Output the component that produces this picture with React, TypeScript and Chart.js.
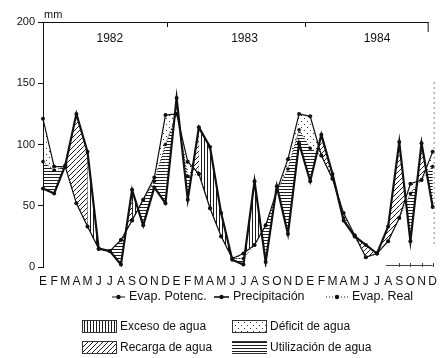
import React, { useEffect, useRef } from 'react';
import { Chart, registerables } from 'chart.js';

Chart.register(...registerables);

const categories = [
  'E', 'F', 'M', 'A', 'M', 'J', 'J', 'A', 'S', 'O', 'N', 'D',
  'E', 'F', 'M', 'A', 'M', 'J', 'J', 'A', 'S', 'O', 'N', 'D',
  'E', 'F', 'M', 'A', 'M', 'J', 'J', 'A', 'S', 'O', 'N', 'D',
];
const years = ['1982', '1983', '1984'];
const yTicks = [0, 50, 100, 150, 200];

const evapPotenc = [121, 82, 82, 52, 33, 15, 13, 22, 38, 55, 73, 124, 125, 86, 76, 48, 25, 7, 11, 18, 34, 62, 88, 125, 123, 91, 72, 44, 26, 8, 11, 21, 40, 68, 71, 94];
const precipitacion = [64, 60, 83, 125, 94, 15, 13, 2, 63, 34, 65, 52, 138, 55, 114, 98, 44, 6, 2, 70, 4, 66, 27, 101, 70, 108, 76, 38, 25, 18, 11, 33, 102, 21, 101, 49];
const evapReal = [86, 79, 82, 52, 33, 15, 13, 22, 38, 55, 70, 100, 125, 74, 76, 48, 25, 7, 7, 18, 34, 62, 80, 112, 97, 91, 72, 40, 25, 8, 11, 21, 40, 60, 71, 82];
// surplus type per month segment: R = recarga, E = exceso
const surplusType = ['R', 'R', 'R', 'R', 'E', 'E', 'R', 'R', 'E', 'E', 'E', 'E', 'R', 'R', 'E', 'E', 'E', 'E', 'E', 'E', 'E', 'E', 'E', 'E', 'R', 'R', 'R', 'R', 'R', 'R', 'R', 'R', 'R', 'R', 'R'];

const FONT = "'Liberation Sans', Arial, Helvetica, sans-serif";
const INK = '#111';

function makePattern(kind: string): CanvasPattern | string {
  const c = document.createElement('canvas');
  const g = c.getContext('2d');
  if (!g) return INK;
  if (kind === 'h') {
    c.width = 4; c.height = 3;
    g.fillStyle = '#1c1c1c';
    g.fillRect(0, 0, 4, 1);
  } else if (kind === 'v') {
    c.width = 3; c.height = 4;
    g.fillStyle = '#1c1c1c';
    g.fillRect(0, 0, 1, 4);
  } else if (kind === 'd') {
    c.width = 5; c.height = 5;
    g.fillStyle = '#1c1c1c';
    for (let k = 0; k < 5; k++) g.fillRect(k, 4 - k, 1, 1);
  } else {
    c.width = 6; c.height = 6;
    g.fillStyle = '#333';
    g.fillRect(1, 1, 1, 1);
    g.fillRect(4, 4, 1, 1);
  }
  return g.createPattern(c, 'repeat') || INK;
}

export default function App() {
  const ref = useRef<HTMLCanvasElement | null>(null);

  useEffect(() => {
    if (!ref.current) return;
    const pats = {
      h: makePattern('h'),
      v: makePattern('v'),
      d: makePattern('d'),
      p: makePattern('p'),
    };

    const fillPlugin = {
      id: 'balanceFills',
      beforeDatasetsDraw(chart: any) {
        const ctx = chart.ctx;
        const xs = chart.scales.x;
        const ys = chart.scales.y;
        const fillBetween = (upper: number[], lower: number[], pick: (i: number) => any) => {
          for (let i = 0; i < upper.length - 1; i++) {
            const a0 = upper[i] - lower[i];
            const a1 = upper[i + 1] - lower[i + 1];
            if (a0 <= 0 && a1 <= 0) continue;
            const x0 = xs.getPixelForValue(i);
            const x1 = xs.getPixelForValue(i + 1);
            const u0 = ys.getPixelForValue(upper[i]);
            const u1 = ys.getPixelForValue(upper[i + 1]);
            const l0 = ys.getPixelForValue(lower[i]);
            const l1 = ys.getPixelForValue(lower[i + 1]);
            ctx.beginPath();
            if (a0 >= 0 && a1 >= 0) {
              ctx.moveTo(x0, u0); ctx.lineTo(x1, u1); ctx.lineTo(x1, l1); ctx.lineTo(x0, l0);
            } else {
              const t = a0 / (a0 - a1);
              const xc = x0 + t * (x1 - x0);
              const yc = u0 + t * (u1 - u0);
              if (a0 > 0) {
                ctx.moveTo(x0, u0); ctx.lineTo(xc, yc); ctx.lineTo(x0, l0);
              } else {
                ctx.moveTo(xc, yc); ctx.lineTo(x1, u1); ctx.lineTo(x1, l1);
              }
            }
            ctx.closePath();
            ctx.fillStyle = pick(i);
            ctx.fill();
          }
        };
        ctx.save();
        fillBetween(evapPotenc, evapReal, () => pats.p);
        fillBetween(evapReal, precipitacion, () => pats.h);
        fillBetween(precipitacion, evapPotenc, (i) => (surplusType[i] === 'R' ? pats.d : pats.v));
        ctx.restore();
      },
    };

    const decoPlugin = {
      id: 'decorations',
      afterDraw(chart: any) {
        const ctx = chart.ctx;
        const xs = chart.scales.x;
        const { left, right, top, bottom } = chart.chartArea;
        ctx.save();
        // top frame line and year dividers
        ctx.strokeStyle = INK;
        ctx.lineWidth = 1;
        ctx.beginPath();
        ctx.moveTo(left, top + 0.5);
        ctx.lineTo(right - 4, top + 0.5);
        ctx.stroke();
        [11.1, 23.5].forEach((v) => {
          const x = Math.round(xs.getPixelForValue(v)) + 0.5;
          ctx.beginPath();
          ctx.moveTo(x, top);
          ctx.lineTo(x, top + 5);
          ctx.stroke();
        });
        ctx.beginPath();
        ctx.moveTo(right - 4.5, top);
        ctx.lineTo(right - 4.5, top + 10);
        ctx.stroke();
        // partial bottom axis at the right end
        ctx.strokeStyle = '#444';
        ctx.beginPath();
        ctx.moveTo(xs.getPixelForValue(30.8), bottom - 1.5);
        ctx.lineTo(right, bottom - 1.5);
        [32, 33, 34, 35].forEach((v) => {
          const x = Math.round(xs.getPixelForValue(v)) + 0.5;
          ctx.moveTo(x, bottom - 4);
          ctx.lineTo(x, bottom);
        });
        ctx.stroke();
        // faint right edge
        ctx.strokeStyle = '#888';
        ctx.setLineDash([2, 3]);
        ctx.beginPath();
        ctx.moveTo(right + 1.5, top + 60);
        ctx.lineTo(right + 1.5, bottom - 20);
        ctx.stroke();
        ctx.setLineDash([]);

        ctx.fillStyle = INK;
        ctx.textBaseline = 'middle';
        ctx.textAlign = 'center';
        ctx.font = `12px ${FONT}`;
        [6.0, 18.1, 30.0].forEach((v, k) => {
          ctx.fillText(years[k], xs.getPixelForValue(v), top + 17);
        });
        ctx.textAlign = 'left';
        ctx.font = `11px ${FONT}`;
        ctx.fillText('mm', left + 1, top - 7);

        // legend row 1 (series)
        const y1 = 297;
        ctx.font = `12.5px ${FONT}`;
        const drawMarker = (x0: number, x1: number, w: number, dash: number[]) => {
          ctx.strokeStyle = INK;
          ctx.lineWidth = w;
          ctx.setLineDash(dash);
          ctx.beginPath();
          ctx.moveTo(x0, y1);
          ctx.lineTo(x1, y1);
          ctx.stroke();
          ctx.setLineDash([]);
          ctx.beginPath();
          ctx.arc((x0 + x1) / 2, y1, 2.2, 0, Math.PI * 2);
          ctx.fill();
        };
        drawMarker(112, 125, 1, []);
        ctx.fillText('Evap. Potenc.', 129, y1);
        drawMarker(214, 229, 1.6, []);
        ctx.fillText('Precipitación', 233, y1);
        drawMarker(326, 348, 1, [1, 2]);
        ctx.fillText('Evap. Real', 352, y1);

        // legend rows 2-3 (patterns)
        ctx.font = `12px ${FONT}`;
        const box = (x: number, y: number, pat: any, label: string, frame: string) => {
          ctx.fillStyle = pat;
          ctx.fillRect(x, y, 35, 13);
          ctx.strokeStyle = '#333';
          ctx.lineWidth = 1;
          if (frame === 'full') {
            ctx.strokeRect(x + 0.5, y + 0.5, 34, 12);
          } else {
            ctx.beginPath();
            ctx.moveTo(x, y + 0.5); ctx.lineTo(x + 35, y + 0.5);
            ctx.moveTo(x, y + 12.5); ctx.lineTo(x + 35, y + 12.5);
            ctx.stroke();
          }
          ctx.fillStyle = INK;
          ctx.fillText(label, x + 38, y + 7);
        };
        box(82, 320, pats.v, 'Exceso de agua', 'full');
        box(232, 320, pats.p, 'Déficit de agua', 'full');
        box(82, 341, pats.d, 'Recarga de agua', 'full');
        box(232, 341, pats.h, 'Utilización de agua', 'h');
        ctx.restore();
      },
    };

    const chart = new Chart(ref.current, {
      type: 'line',
      data: {
        labels: categories,
        datasets: [
          {
            label: 'Evap. Potenc.',
            data: evapPotenc,
            borderColor: INK,
            backgroundColor: INK,
            borderWidth: 1.2,
            pointRadius: 2,
            pointBorderWidth: 0,
            pointBackgroundColor: INK,
            tension: 0,
            fill: false,
          },
          {
            label: 'Precipitación',
            data: precipitacion,
            borderColor: INK,
            backgroundColor: INK,
            borderWidth: 2.2,
            pointRadius: 2,
            pointBorderWidth: 0,
            pointBackgroundColor: INK,
            tension: 0,
            fill: false,
          },
          {
            label: 'Evap. Real',
            data: evapReal,
            borderColor: '#222',
            backgroundColor: INK,
            borderWidth: 1,
            borderDash: [1, 2],
            pointRadius: 1.8,
            pointBorderWidth: 0,
            pointBackgroundColor: INK,
            tension: 0,
            fill: false,
          },
        ],
      },
      options: {
        animation: false,
        responsive: false,
        events: [],
        layout: { padding: { top: 22, right: 3, bottom: 71, left: 0 } },
        plugins: {
          legend: { display: false },
          tooltip: { enabled: false },
        },
        scales: {
          x: {
            type: 'category',
            offset: false,
            grid: { display: false, drawTicks: false },
            border: { display: false },
            ticks: {
              autoSkip: false,
              maxRotation: 0,
              color: INK,
              padding: 7,
              font: { family: FONT, size: 12 },
            },
            afterFit: (s: any) => { s.height = 20; },
          },
          y: {
            min: 0,
            max: 200,
            afterBuildTicks: (s: any) => { s.ticks = yTicks.map((v) => ({ value: v })); },
            ticks: {
              color: INK,
              padding: 3,
              font: { family: FONT, size: 11 },
            },
            grid: { drawOnChartArea: false, tickLength: 5, color: INK },
            border: { display: true, color: INK, width: 1 },
            afterFit: (s: any) => { s.width = 43; },
          },
        },
      },
      plugins: [fillPlugin, decoPlugin],
    } as any);

    return () => chart.destroy();
  }, []);

  return (
    <div style={{ position: 'fixed', left: 0, top: 0, width: 444, height: 358, background: '#fff' }}>
      <canvas ref={ref} width={444} height={358} style={{ display: 'block' }} />
    </div>
  );
}
